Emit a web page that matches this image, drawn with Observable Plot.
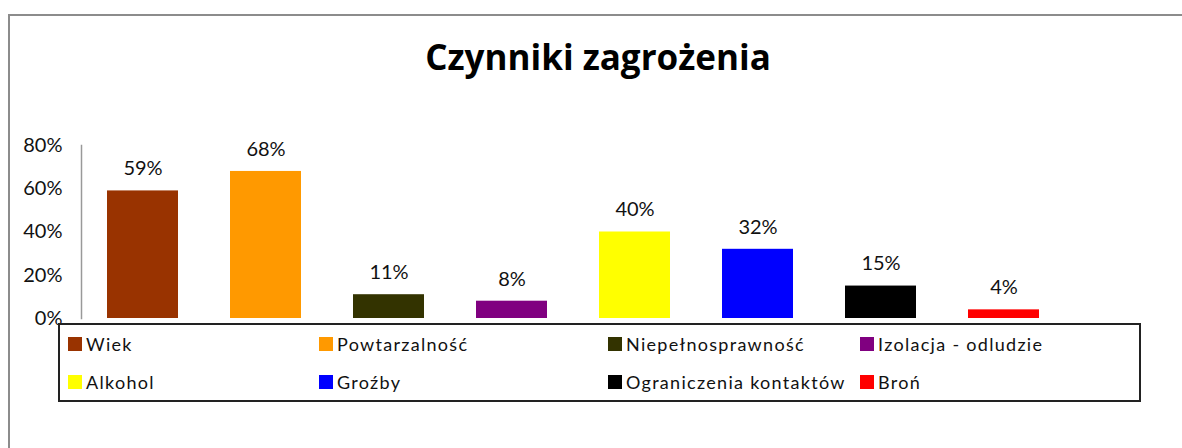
<!DOCTYPE html>
<html>
<head>
<meta charset="utf-8">
<script src="https://cdn.jsdelivr.net/npm/d3@7"></script>
<script src="https://cdn.jsdelivr.net/npm/@observablehq/plot@0.6"></script>
<style>
  html, body { margin: 0; padding: 0; background: #fff; }
  body { width: 1182px; height: 448px; overflow: hidden; position: relative; font-family: Lato, "Open Sans", sans-serif; }
  #outer { position: absolute; left: 8px; top: 14px; width: 1300px; height: 600px; border-left: 2px solid #8c8c8c; border-top: 2px solid #8c8c8c; box-sizing: border-box; }
  #title { position: absolute; left: 0; width: 1196px; top: 36px; text-align: center; font-family: "Open Sans", Lato, sans-serif; font-weight: bold; font-size: 35px; color: #000; line-height: 42px; }
  #chart { position: absolute; left: 0; top: 0; }
  #legend { position: absolute; left: 58px; top: 323px; width: 1083px; height: 79px; border: 2px solid #222; box-sizing: border-box; background: #fff;
            display: grid; grid-template-columns: 251px 289px 252px auto; grid-template-rows: 38px 38px; padding: 0 0 0 8px; }
  .item { display: flex; align-items: center; font-size: 18px; letter-spacing: 1.3px; color: #111; }
  .sw { width: 14px; height: 14px; margin-right: 4px; flex: none; }
</style>
</head>
<body>
<div id="outer"></div>
<div id="chart"></div>
<div id="title"></div>
<div id="legend"></div>
<script>
const categories = ["Wiek", "Powtarzalność", "Niepełnosprawność", "Izolacja - odludzie", "Alkohol", "Groźby", "Ograniczenia kontaktów", "Broń"];
const values = [59, 68, 11, 8, 40, 32, 15, 4];
const colors = ["#993300", "#FF9900", "#333300", "#800080", "#FFFF00", "#0000FF", "#000000", "#FF0000"];
const yTicks = [0, 20, 40, 60, 80];
const titleText = "Czynniki zagrożenia";

const data = categories.map((c, i) => ({category: c, value: values[i], color: colors[i]}));

document.getElementById("title").textContent = titleText;

const chart = Plot.plot({
  width: 1182,
  height: 448,
  marginLeft: 81,
  marginRight: 117,
  marginTop: 145,
  marginBottom: 130,
  style: {fontFamily: "Lato, 'Open Sans', sans-serif", fontSize: "20px", color: "#111", background: "transparent", overflow: "visible"},
  x: {domain: categories, paddingInner: 0.42, paddingOuter: 0.21, axis: null},
  y: {domain: [0, 80], label: null},
  color: {type: "identity"},
  marks: [
    Plot.axisY({ticks: yTicks, tickSize: 0, tickPadding: 19, tickFormat: d => d + "%", label: null, fontSize: 20}),
    Plot.frame({anchor: "left", stroke: "#999", strokeWidth: 1.5}),
    Plot.barY(data, {x: "category", y: "value", fill: "color"}),
    Plot.text(data, {x: "category", y: "value", text: d => d.value + "%", dy: -22, fontSize: 20, fill: "#111"})
  ]
});
document.getElementById("chart").appendChild(chart);

const legend = document.getElementById("legend");
data.forEach(d => {
  const item = document.createElement("div");
  item.className = "item";
  const sw = document.createElement("span");
  sw.className = "sw";
  sw.style.background = d.color;
  const label = document.createElement("span");
  label.textContent = d.category;
  item.appendChild(sw);
  item.appendChild(label);
  legend.appendChild(item);
});
</script>
</body>
</html>
